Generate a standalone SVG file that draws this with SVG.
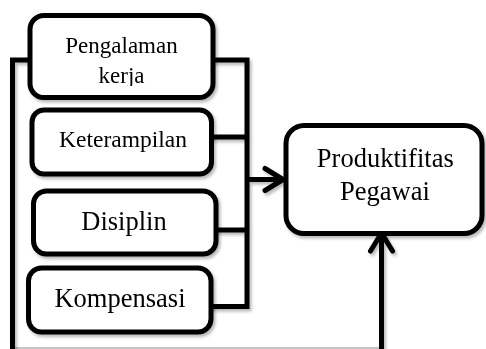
<svg xmlns="http://www.w3.org/2000/svg" width="486" height="349" viewBox="0 0 486 349">
<style>
.box{fill:#fff;stroke:#000;stroke-width:5}
.ln{fill:none;stroke:#000;stroke-width:5;stroke-linejoin:miter}
.t{font-family:"Liberation Serif","Times New Roman",serif;fill:#000;text-anchor:middle}
</style>
<defs>
<filter id="sh" x="-10%" y="-10%" width="130%" height="130%">
<feDropShadow dx="2" dy="2.5" stdDeviation="1.5" flood-color="#000" flood-opacity="0.28"/>
</filter>
<marker id="arr" markerUnits="userSpaceOnUse" markerWidth="30" markerHeight="30" viewBox="-26 -15 30 30" refX="0" refY="0" orient="auto">
<path d="M-19,-11 L-1,0 L-19,11" fill="none" stroke="#000" stroke-width="5" stroke-linecap="round" stroke-linejoin="round"/>
</marker>
<clipPath id="cl1"><rect x="30" y="15" width="183" height="71"/></clipPath>
</defs>
<line x1="12" y1="348" x2="384" y2="348" stroke="#8a8a8a" stroke-width="1"/>
<g id="connectors" filter="url(#sh)">
<path class="ln" d="M12.5,349 V60 H32"/>
<path class="ln" d="M211,60 H247 V309"/>
<path class="ln" d="M209,137 H247"/>
<path class="ln" d="M214,230 H247"/>
<path class="ln" d="M209,306.5 H247"/>
<path class="ln" d="M247,179.5 H284" marker-end="url(#arr)"/>
<path class="ln" d="M381.5,349 V232" marker-end="url(#arr)"/>
</g>
<g id="pengalaman" filter="url(#sh)">
<rect class="box" x="30" y="15.5" width="183" height="82" rx="14"/>
<g clip-path="url(#cl1)">
<text class="t" x="121.5" y="53" font-size="23">Pengalaman</text>
<text class="t" x="121.5" y="83" font-size="23">kerja</text>
</g>
</g>
<g id="keterampilan" filter="url(#sh)">
<rect class="box" x="32" y="110" width="179.5" height="64" rx="12"/>
<text class="t" x="123" y="146.5" font-size="23.5">Keterampilan</text>
</g>
<g id="disiplin" filter="url(#sh)">
<rect class="box" x="33.5" y="191" width="182.5" height="63" rx="13"/>
<text class="t" x="124" y="229.5" font-size="26.5">Disiplin</text>
</g>
<g id="kompensasi" filter="url(#sh)">
<rect class="box" x="28.5" y="268" width="182.5" height="64" rx="13"/>
<text class="t" x="120" y="306.5" font-size="26.5">Kompensasi</text>
</g>
<g id="produktifitas" filter="url(#sh)">
<rect class="box" x="286" y="125.5" width="196" height="108" rx="18"/>
<text class="t" x="385.3" y="166.5" font-size="26.5">Produktifitas</text>
<text class="t" x="385" y="200" font-size="26.5">Pegawai</text>
</g>
</svg>
